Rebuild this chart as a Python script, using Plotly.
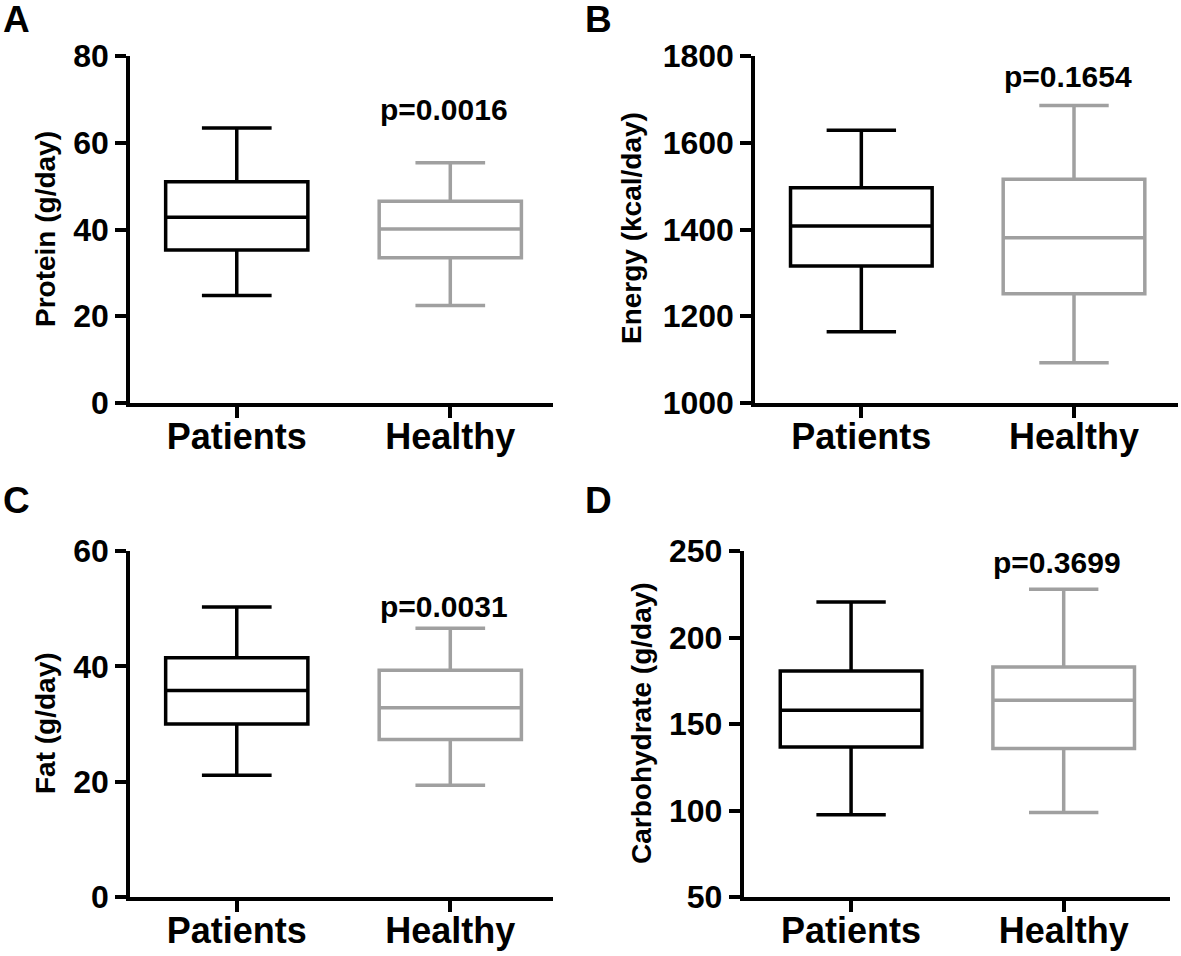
import plotly.graph_objects as go

# ---------------- data ----------------
groups = ["Patients", "Healthy"]
colors = ["#000000", "#a0a0a0"]

protein_lower = [24.8, 22.5]
protein_q1 = [35.3, 33.5]
protein_median = [42.8, 40.1]
protein_q3 = [51.0, 46.5]
protein_upper = [63.4, 55.4]

energy_lower = [1164, 1093]
energy_q1 = [1316, 1252]
energy_median = [1408, 1381]
energy_q3 = [1496, 1516]
energy_upper = [1629, 1686]

fat_lower = [21.1, 19.4]
fat_q1 = [30.0, 27.3]
fat_median = [35.8, 32.8]
fat_q3 = [41.5, 39.3]
fat_upper = [50.3, 46.6]

carb_lower = [97.6, 98.8]
carb_q1 = [136.7, 135.8]
carb_median = [157.9, 163.7]
carb_q3 = [180.6, 182.9]
carb_upper = [220.5, 227.9]

panel_letters = ["A", "B", "C", "D"]
y_titles = ["Protein (g/day)", "Energy (kcal/day)", "Fat (g/day)", "Carbohydrate (g/day)"]
p_values = ["p=0.0016", "p=0.1654", "p=0.0031", "p=0.3699"]
y_ranges = [[0, 80], [1000, 1800], [0, 60], [50, 250]]
y_dticks = [20, 200, 20, 50]
p_y = [67.6, 1752, 50.3, 243.6]

panels = [
    (protein_lower, protein_q1, protein_median, protein_q3, protein_upper),
    (energy_lower, energy_q1, energy_median, energy_q3, energy_upper),
    (fat_lower, fat_q1, fat_median, fat_q3, fat_upper),
    (carb_lower, carb_q1, carb_median, carb_q3, carb_upper),
]

W, H = 1181, 956
# pixel layout of each plotting area: (x0, x1, ytop, ybottom), x range
areas = [
    (130, 553, 56, 403, [-0.5, 1.481]),
    (755, 1178, 56, 403, [-0.5, 1.489]),
    (130, 553, 551, 897, [-0.5, 1.481]),
    (743.5, 1170, 551, 897, [-0.506, 1.50]),
]
title_pos = [(45, 229), (631, 228), (45, 723), (641, 723)]
letter_pos = [(16, 19), (598, 19), (16, 500), (598, 500)]

FONT = "Liberation Sans, Arial, Helvetica, sans-serif"

fig = go.Figure()
layout = dict(
    width=W, height=H,
    paper_bgcolor="white", plot_bgcolor="white",
    margin=dict(l=0, r=0, t=0, b=0, autoexpand=False),
    showlegend=False,
    annotations=[],
)

for i, (stats, area) in enumerate(zip(panels, areas)):
    lo, q1, med, q3, up = stats
    x0, x1, yt, yb, xr = area
    sfx = "" if i == 0 else str(i + 1)
    for j, g in enumerate(groups):
        fig.add_trace(go.Box(
            x=[g], q1=[q1[j]], median=[med[j]], q3=[q3[j]],
            lowerfence=[lo[j]], upperfence=[up[j]],
            line=dict(color=colors[j], width=3.5),
            fillcolor="white",
            width=0.666, whiskerwidth=0.49,
            boxpoints=False, hoverinfo="skip",
            xaxis="x" + sfx, yaxis="y" + sfx,
        ))
    layout["xaxis" + sfx] = dict(
        domain=[x0 / W, x1 / W], anchor="y" + sfx,
        type="category", categoryorder="array", categoryarray=groups,
        range=xr, showgrid=False, zeroline=False, automargin=False,
        showline=True, linecolor="black", linewidth=3.5,
        ticks="outside", ticklen=11, tickwidth=3.5, tickcolor="black",
        ticklabelstandoff=-12,
        tickfont=dict(family=FONT, size=36, color="black", weight="bold"),
    )
    layout["yaxis" + sfx] = dict(
        domain=[1 - yb / H, 1 - yt / H], anchor="x" + sfx,
        range=y_ranges[i], dtick=y_dticks[i], tick0=y_ranges[i][0],
        showgrid=False, zeroline=False, automargin=False,
        showline=True, linecolor="black", linewidth=3.5,
        ticks="outside", ticklen=11, tickwidth=3.5, tickcolor="black",
        tickfont=dict(family=FONT, size=32, color="black", weight="bold"),
    )
    tx, ty = title_pos[i]
    layout["annotations"].append(dict(
        text=y_titles[i], x=tx / W, y=1 - ty / H, xref="paper", yref="paper",
        xanchor="center", yanchor="middle", textangle=-90, showarrow=False,
        font=dict(family=FONT, size=28, color="black", weight="bold"),
    ))
    lx, ly = letter_pos[i]
    layout["annotations"].append(dict(
        text=panel_letters[i], x=lx / W, y=1 - ly / H, xref="paper", yref="paper",
        xanchor="center", yanchor="middle", showarrow=False,
        font=dict(family=FONT, size=37, color="black", weight="bold"),
    ))
    layout["annotations"].append(dict(
        text=p_values[i], x=0.97, y=p_y[i], xref="x" + sfx, yref="y" + sfx,
        xanchor="center", yanchor="middle", showarrow=False,
        font=dict(family=FONT, size=30, color="black", weight="bold"),
    ))

fig.update_layout(**layout)
fig.write_html(
    "out.html",
    config={"displayModeBar": False},
    post_script="document.body.style.margin='0';document.body.style.overflow='hidden';",
)
